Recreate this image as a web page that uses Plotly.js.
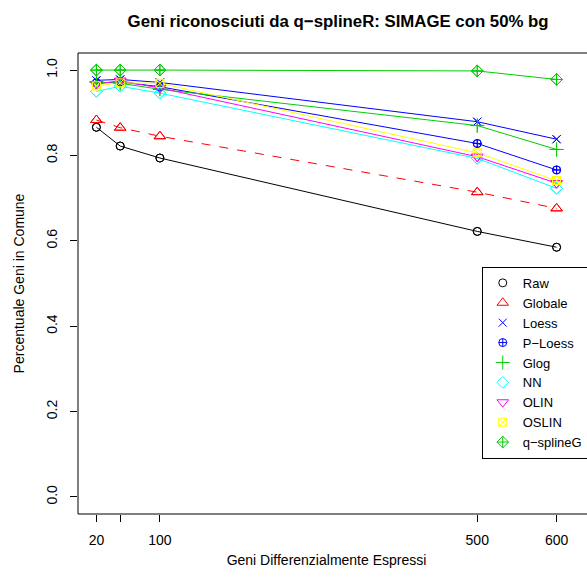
<!DOCTYPE html>
<html>
<head>
<meta charset="utf-8">
<script src="https://cdn.plot.ly/plotly-3.0.1.min.js"></script>
<style>html,body{margin:0;padding:0;background:#fff;overflow:hidden;}#chart{width:587px;height:586px;}</style>
</head>
<body>
<div id="chart"></div>
<script>
var geni = [20, 50, 100, 500, 600];
var tickVals = [20, 50, 100, 500, 600];
var tickText = ["20", "", "100", "500", "600"];
var yTicks = [0, 0.2, 0.4, 0.6, 0.8, 1.0];
var yTickText = ["0.0", "0.2", "0.4", "0.6", "0.8", "1.0"];

var raw      = [0.866, 0.822, 0.794, 0.622, 0.585];
var globale  = [0.883, 0.865, 0.845, 0.714, 0.676];
var loess    = [0.976, 0.978, 0.971, 0.879, 0.838];
var ploess   = [0.970, 0.972, 0.961, 0.828, 0.766];
var glog     = [0.972, 0.969, 0.955, 0.870, 0.814];
var nn       = [0.950, 0.962, 0.946, 0.793, 0.723];
var olin     = [0.967, 0.975, 0.958, 0.797, 0.735];
var oslin    = [0.963, 0.970, 0.969, 0.806, 0.741];
var qsplineg = [1.000, 1.000, 1.000, 0.998, 0.978];

var names   = ["Raw", "Globale", "Loess", "P\u2212Loess", "Glog", "NN", "OLIN", "OSLIN", "q\u2212splineG"];
var series  = [raw, globale, loess, ploess, glog, nn, olin, oslin, qsplineg];
var colors  = ["#000000", "#FF0000", "#0000FF", "#0000FF", "#00CD00", "#00FFFF", "#FF00FF", "#FFFF00", "#00CD00"];
var symbols = ["circle-open", "triangle-up-open", "x-thin-open", "circle-cross-open", "cross-thin-open", "diamond-open", "triangle-down-open", "square-x-open", "diamond-cross-open"];
var dashes  = ["solid", "dash", "solid", "solid", "solid", "solid", "solid", "solid", "solid"];
var sizes   = [8, 10, 8, 8, 10, 9, 10, 8, 9];

var traces = [];
for (var i = 0; i < series.length; i++) {
  traces.push({
    x: geni, y: series[i], type: "scatter", mode: "lines+markers",
    name: names[i], showlegend: false,
    line: {color: colors[i], width: 1, dash: dashes[i]},
    marker: {symbol: symbols[i], size: sizes[i], color: colors[i], line: {color: colors[i], width: 1}}
  });
}
for (var j = 0; j < series.length; j++) {
  traces.push({
    x: geni, y: series[j], type: "scatter", mode: "markers",
    name: names[j], showlegend: true, hoverinfo: "skip",
    marker: {symbol: symbols[j], size: sizes[j], color: colors[j], line: {color: colors[j], width: 1}}
  });
}

var layout = {
  width: 587, height: 586,
  paper_bgcolor: "#fff", plot_bgcolor: "#fff",
  font: {family: "Liberation Sans, Arial, sans-serif", size: 14, color: "#000"},
  margin: {l: 78, r: 12, t: 53, b: 72, autoexpand: false},
  title: {text: "<b>Geni riconosciuti da q\u2212splineR: SIMAGE con 50% bg</b>", font: {size: 16.8}, xref: "container", yref: "container", x: 0.576, xanchor: "center", y: 0.964, yanchor: "middle"},
  xaxis: {
    range: [-3.2, 623.2], tickvals: tickVals, ticktext: tickText,
    showgrid: false, zeroline: false, showline: false,
    ticks: "outside", ticklen: 7, tickwidth: 1, tickcolor: "#000",
    ticklabelstandoff: 6, tickfont: {size: 14},
    title: {text: "Geni Differenzialmente Espressi", font: {size: 14}, standoff: 8}
  },
  yaxis: {
    range: [-0.04, 1.04], tickvals: yTicks, ticktext: yTickText, tickangle: -90,
    showgrid: false, zeroline: false, showline: false,
    ticks: "outside", ticklen: 7, tickwidth: 1, tickcolor: "#000",
    ticklabelstandoff: 7, tickfont: {size: 14},
    title: {text: "Percentuale Geni in Comune", font: {size: 14}, standoff: 16}
  },
  shapes: [
    {type: "line", xref: "paper", yref: "paper", x0: 0, x1: 1.2, y0: 0, y1: 0, line: {color: "#000", width: 1}},
    {type: "line", xref: "paper", yref: "paper", x0: 0, x1: 0, y0: 0, y1: 1, line: {color: "#000", width: 1}},
    {type: "line", xref: "paper", yref: "paper", x0: 0, x1: 1.2, y0: 1, y1: 1, line: {color: "#000", width: 1}}
  ],
  legend: {
    x: 0.8124, y: 0.536, xanchor: "left", yanchor: "top",
    bgcolor: "#fff", bordercolor: "#000", borderwidth: 1,
    font: {size: 13}, tracegroupgap: 0, itemwidth: 30
  },
  showlegend: true
};

Plotly.newPlot("chart", traces, layout, {displayModeBar: false, staticPlot: true});
</script>
</body>
</html>
